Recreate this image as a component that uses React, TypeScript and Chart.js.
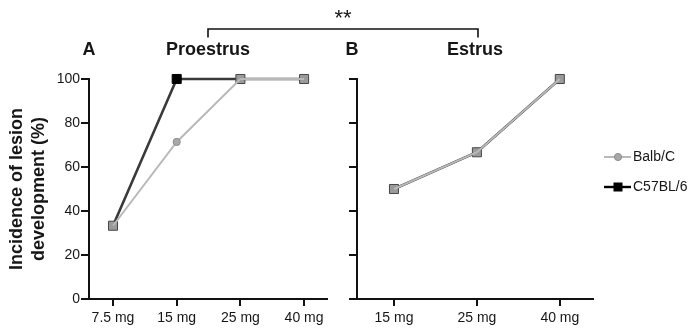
import React, { useEffect, useRef } from "react";
import { Chart, registerables } from "chart.js";

Chart.register(...registerables);

// ---- data ----
const dosesA = ["7.5 mg", "15 mg", "25 mg", "40 mg"];
const balbA = [33.3, 71.4, 100, 100];
const c57A = [33.3, 100, 100, 100];

const dosesB = ["15 mg", "25 mg", "40 mg"];
const balbB = [50, 66.7, 100];
const c57B = [50, 66.7, 100];

const yTicks = [0, 20, 40, 60, 80, 100];
const seriesNames = ["Balb/C", "C57BL/6"];
const panelLetters = ["A", "B"];
const phaseTitles = ["Proestrus", "Estrus"];
const yTitle = ["Incidence of lesion", "development (%)"];
const sigLabel = "**";

// ---- styles ----
const FONT = "'Liberation Sans', Arial, Helvetica, sans-serif";
const TEXT = "#161616";
const AXIS = "#111111";
const GRAY_LINE = "#b9b9b9";
const GRAY_PT = "#a8a8a8";
const GRAY_PT_BORDER = "#8e8e8e";
const DARK_LINE = "#3a3a3a";
const OVERLAP_FILL = "#9a9a9a";
const OVERLAP_BORDER = "#474747";

function makeDatasets(balb: number[], c57: number[]) {
  const same = balb.map((v, i) => v === c57[i]);
  return [
    {
      label: seriesNames[0],
      data: balb.map((v, i) => ({ x: i, y: v })),
      borderColor: GRAY_LINE,
      borderWidth: 2,
      pointStyle: "circle",
      pointRadius: same.map((s) => (s ? 0 : 3.6)),
      pointBackgroundColor: GRAY_PT,
      pointBorderColor: GRAY_PT_BORDER,
      pointBorderWidth: 1,
      clip: false,
      order: 0,
      tension: 0,
    },
    {
      label: seriesNames[1],
      data: c57.map((v, i) => ({ x: i, y: v })),
      borderColor: DARK_LINE,
      borderWidth: 2.6,
      pointStyle: "rect",
      pointRadius: 6.4,
      pointBackgroundColor: same.map((s) => (s ? OVERLAP_FILL : "#000000")),
      pointBorderColor: same.map((s) => (s ? OVERLAP_BORDER : "#000000")),
      pointBorderWidth: 1,
      clip: false,
      order: 1,
      tension: 0,
    },
  ];
}

function xScale(labels: string[], min: number, max: number) {
  return {
    type: "linear" as const,
    min,
    max,
    afterBuildTicks: (s: any) => {
      s.ticks = labels.map((_, i) => ({ value: i }));
    },
    afterFit: (s: any) => {
      s.height = 32;
    },
    ticks: {
      callback: (v: any) => labels[v as number] ?? "",
      font: { family: FONT, size: 14 },
      color: TEXT,
      padding: 4,
      autoSkip: false,
      maxRotation: 0,
    },
    grid: {
      drawOnChartArea: false,
      drawTicks: true,
      tickLength: 7,
      lineWidth: 2,
      color: AXIS,
    },
    border: { display: true, width: 2, color: AXIS },
  };
}

function yScale(width: number, showLabels: boolean) {
  return {
    type: "linear" as const,
    min: 0,
    max: 100,
    afterBuildTicks: (s: any) => {
      s.ticks = yTicks.map((v) => ({ value: v }));
    },
    afterFit: (s: any) => {
      s.width = width;
    },
    ticks: {
      display: showLabels,
      font: { family: FONT, size: 14 },
      color: TEXT,
      padding: 1,
    },
    grid: {
      drawOnChartArea: false,
      drawTicks: true,
      tickLength: 8,
      lineWidth: 2,
      color: AXIS,
    },
    border: { display: true, width: 2, color: AXIS },
    title: {
      display: showLabels,
      text: yTitle,
      color: TEXT,
      font: { family: FONT, size: 18, weight: "bold" as const, lineHeight: 1.22 },
      padding: { top: 6.5, bottom: 0 },
    },
  };
}

const panelTitlePlugin = (letter: string, title: string, letterDx: number) => ({
  id: "panelTitle" + letter,
  afterDraw(chart: any) {
    const { ctx, chartArea } = chart;
    ctx.save();
    ctx.fillStyle = TEXT;
    ctx.font = `bold 18px ${FONT}`;
    ctx.textAlign = "center";
    ctx.textBaseline = "middle";
    ctx.fillText(letter, chartArea.left + letterDx, 50);
    ctx.fillText(title, (chartArea.left + chartArea.right) / 2, 50);
    ctx.restore();
  },
});

const overlayPlugin = {
  id: "overlay",
  afterDraw(chart: any) {
    const { ctx } = chart;
    ctx.save();
    // significance bracket
    ctx.strokeStyle = AXIS;
    ctx.lineWidth = 1.6;
    ctx.beginPath();
    ctx.moveTo(208, 37.5);
    ctx.lineTo(208, 29);
    ctx.lineTo(478, 29);
    ctx.lineTo(478, 37.5);
    ctx.stroke();
    ctx.fillStyle = TEXT;
    ctx.font = `22px ${FONT}`;
    ctx.textAlign = "center";
    ctx.textBaseline = "alphabetic";
    ctx.fillText(sigLabel, 343, 24.5);

    // legend
    const rows = [157, 187];
    const lx0 = 604;
    const lx1 = 631;
    const mx = 618;
    // Balb/C
    ctx.strokeStyle = GRAY_LINE;
    ctx.lineWidth = 2;
    ctx.beginPath();
    ctx.moveTo(lx0, rows[0]);
    ctx.lineTo(lx1, rows[0]);
    ctx.stroke();
    ctx.fillStyle = GRAY_PT;
    ctx.strokeStyle = GRAY_PT_BORDER;
    ctx.lineWidth = 1;
    ctx.beginPath();
    ctx.arc(mx, rows[0], 3.6, 0, Math.PI * 2);
    ctx.fill();
    ctx.stroke();
    // C57BL/6
    ctx.strokeStyle = "#000000";
    ctx.lineWidth = 2.4;
    ctx.beginPath();
    ctx.moveTo(lx0, rows[1]);
    ctx.lineTo(lx1, rows[1]);
    ctx.stroke();
    ctx.fillStyle = "#000000";
    ctx.fillRect(mx - 4.5, rows[1] - 4.5, 9, 9);

    ctx.fillStyle = TEXT;
    ctx.font = `14px ${FONT}`;
    ctx.textAlign = "left";
    ctx.textBaseline = "middle";
    ctx.fillText(seriesNames[0], 633, rows[0]);
    ctx.fillText(seriesNames[1], 633, rows[1]);
    ctx.restore();
  },
};

export default function App() {
  const refA = useRef<HTMLCanvasElement>(null);
  const refB = useRef<HTMLCanvasElement>(null);

  useEffect(() => {
    const common = {
      animation: false as const,
      responsive: false,
      maintainAspectRatio: false,
      plugins: { legend: { display: false }, tooltip: { enabled: false } },
      events: [] as any[],
    };
    const chartA = new Chart(refA.current!, {
      type: "line",
      data: { datasets: makeDatasets(balbA, c57A) as any },
      options: {
        ...common,
        layout: { padding: { top: 79, left: 0, right: 697 - 327, bottom: 0 } },
        scales: {
          x: xScale(dosesA, -0.377, 3.36) as any,
          y: yScale(89, true) as any,
        },
      },
      plugins: [panelTitlePlugin(panelLetters[0], phaseTitles[0], 0)],
    });
    const chartB = new Chart(refB.current!, {
      type: "line",
      data: { datasets: makeDatasets(balbB, c57B) as any },
      options: {
        ...common,
        layout: { padding: { top: 79, left: 340, right: 697 - 593, bottom: 0 } },
        scales: {
          x: xScale(dosesB, -0.446, 2.4) as any,
          y: yScale(17, false) as any,
        },
      },
      plugins: [panelTitlePlugin(panelLetters[1], phaseTitles[1], -5), overlayPlugin],
    });
    return () => {
      chartA.destroy();
      chartB.destroy();
    };
  }, []);

  const canvasStyle: React.CSSProperties = {
    position: "absolute",
    left: 0,
    top: 0,
    width: 697,
    height: 331,
  };

  return (
    <div
      style={{
        position: "fixed",
        left: 0,
        top: 0,
        width: 697,
        height: 331,
        background: "#ffffff",
      }}
    >
      <canvas ref={refA} width={697} height={331} style={canvasStyle} />
      <canvas ref={refB} width={697} height={331} style={canvasStyle} />
    </div>
  );
}
